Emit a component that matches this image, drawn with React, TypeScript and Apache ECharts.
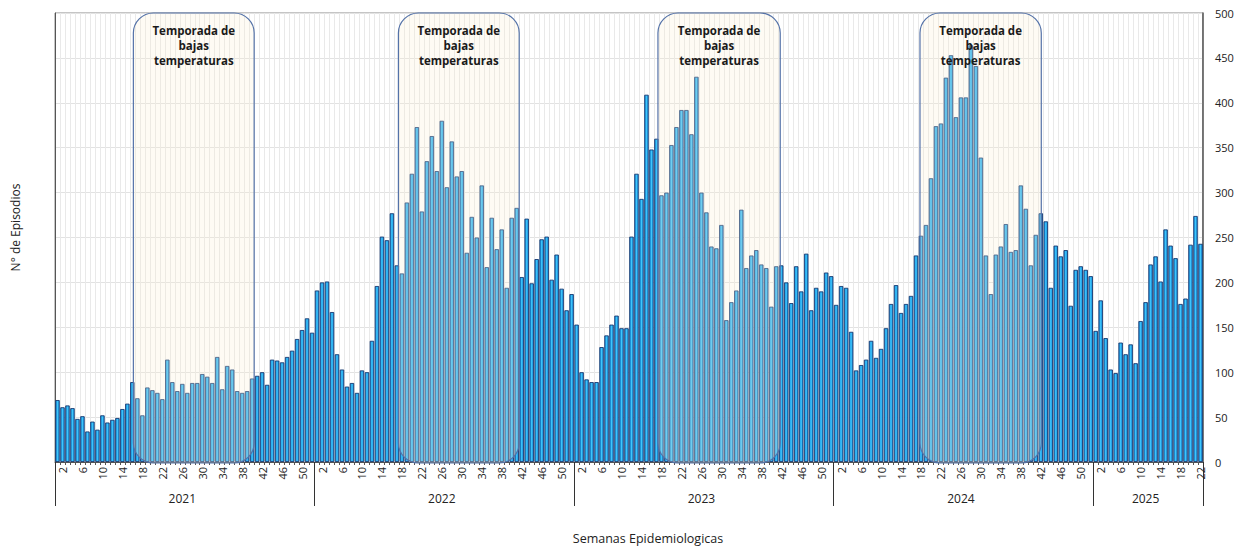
import React, { useEffect, useRef } from "react";
import * as echarts from "echarts";

const years = ["2021", "2022", "2023", "2024", "2025"];
const v2021 = [69,61,63,60,48,51,34,45,36,52,44,47,49,59,65,89,71,52,83,80,77,70,114,89,79,87,77,88,88,98,95,88,117,81,107,103,79,77,79,93,96,100,86,114,113,111,117,124,137,147,160,144];
const v2022 = [191,200,201,167,120,103,84,88,77,102,100,135,196,251,247,277,219,210,289,321,373,279,335,363,324,380,306,357,318,324,233,273,250,308,217,272,237,259,194,272,283,206,271,199,226,248,251,203,231,193,169,187];
const v2023 = [153,100,92,89,89,128,141,153,163,149,149,251,321,293,409,348,360,297,300,353,373,392,392,365,429,300,278,240,238,264,158,178,191,281,216,230,236,220,216,173,218,219,200,177,218,190,232,169,194,190,211,207];
const v2024 = [175,196,194,145,102,108,114,135,116,126,149,176,197,166,176,185,230,252,264,316,374,377,428,453,384,406,406,464,441,339,230,187,231,240,265,234,236,308,282,219,253,277,268,194,241,229,236,174,214,218,214,207];
const v2025 = [146,180,138,103,99,133,120,131,110,157,178,220,229,201,259,241,227,176,182,242,274,243];
const yearValues = [v2021, v2022, v2023, v2024, v2025];

// Low-temperature seasons: year index and start/end position in weeks (week w spans [w-1, w])
const seasonYear = [0, 1, 2, 3];
const seasonFrom = [16.7, 17.8, 17.8, 18.3];
const seasonTo = [40.9, 42.0, 42.3, 42.6];
const seasonText = "Temporada de\nbajas\ntemperaturas";

export default function App() {
  const ref = useRef<HTMLDivElement>(null);
  useEffect(() => {
    if (!ref.current) return;
    const chart = echarts.init(ref.current, null, { renderer: "svg" });

    const weekCats: string[] = [];
    const yearCats: string[] = [];
    const values: number[] = [];
    const isYearStart: boolean[] = [];
    const isYearMid: boolean[] = [];
    const yearOffset: number[] = [];
    let off = 0;
    yearValues.forEach((arr, yi) => {
      yearOffset.push(off);
      const mid = Math.floor(arr.length / 2) - 1;
      arr.forEach((v, wi) => {
        weekCats.push(String(wi + 1));
        yearCats.push(years[yi]);
        values.push(v);
        isYearStart.push(wi === 0);
        isYearMid.push(wi === mid);
      });
      off += arr.length;
    });

    const font = '"Open Sans", "Liberation Sans", sans-serif';
    const barColor = new echarts.graphic.LinearGradient(0, 0, 1, 0, [
      { offset: 0, color: "#0c86da" },
      { offset: 0.5, color: "#3fc6fb" },
      { offset: 1, color: "#0c86da" },
    ]);

    const seasonData = seasonYear.map((y, i) => [
      Math.floor(yearOffset[y] + seasonFrom[i] - 1),
      500,
      i,
    ]);

    chart.setOption({
      animation: false,
      backgroundColor: "#ffffff",
      grid: {
        left: 55,
        right: 38,
        top: 13,
        bottom: 86,
        show: true,
        borderColor: "#8a8a8a",
        borderWidth: 1,
        backgroundColor: "transparent",
      },
      xAxis: [
        {
          type: "category",
          data: weekCats,
          position: "bottom",
          axisLine: { show: true, lineStyle: { color: "#555" } },
          axisTick: { show: true, interval: 0, length: 3, lineStyle: { color: "#555" } },
          axisLabel: {
            interval: (i: number, v: string) => Number(v) % 4 === 2,
            rotate: 90,
            fontSize: 11,
            color: "#222",
            fontFamily: font,
            margin: 5,
          },
          splitLine: { show: true, interval: 0, lineStyle: { color: "#e9e9e9", width: 1 } },
        },
        {
          type: "category",
          data: yearCats,
          position: "bottom",
          axisLine: { show: false },
          axisTick: {
            show: true,
            interval: (i: number) => isYearStart[i],
            length: 44,
            lineStyle: { color: "#333" },
          },
          axisLabel: {
            interval: (i: number) => isYearMid[i],
            fontSize: 12,
            color: "#222",
            fontFamily: font,
            margin: 30,
          },
          splitLine: { show: false },
          name: "Semanas Epidemiologicas",
          nameLocation: "middle",
          nameGap: 70,
          nameTextStyle: { fontSize: 12.5, color: "#222", fontFamily: font, padding: [0, 0, 0, 38] },
        },
      ],
      yAxis: [
        {
          type: "value",
          position: "right",
          min: 0,
          max: 500,
          interval: 50,
          axisLine: { show: true, lineStyle: { color: "#555", width: 1.5 } },
          axisTick: { show: false },
          axisLabel: { fontSize: 11, color: "#222", fontFamily: font, margin: 12 },
          splitLine: { show: true, lineStyle: { color: "#e2e2e2", width: 1 } },
        },
        {
          type: "value",
          position: "left",
          min: 0,
          max: 500,
          interval: 50,
          axisLine: { show: true, lineStyle: { color: "#555" } },
          axisTick: { show: false },
          axisLabel: { show: false },
          splitLine: { show: false },
          name: "N° de Episodios",
          nameLocation: "middle",
          nameGap: 34,
          nameRotate: 90,
          nameTextStyle: { fontSize: 12, color: "#222", fontFamily: font, padding: [0, 0, 0, 20] },
        },
      ],
      series: [
        {
          type: "bar",
          data: values,
          xAxisIndex: 0,
          yAxisIndex: 0,
          barCategoryGap: "10%",
          z: 2,
          itemStyle: { color: barColor, borderColor: "#183a72", borderWidth: 0.9 },
        },
        {
          type: "custom",
          xAxisIndex: 0,
          yAxisIndex: 0,
          z: 5,
          clip: false,
          data: seasonData,
          renderItem: (params: any, api: any) => {
            const i = api.value(2);
            const bw = api.size([1, 0])[0];
            const x0 = api.coord([0, 0])[0] - bw / 2;
            const bottom = api.coord([0, 0])[1];
            const top = api.coord([0, 500])[1];
            const start = yearOffset[seasonYear[i]] + seasonFrom[i] - 1;
            const end = yearOffset[seasonYear[i]] + seasonTo[i] - 1;
            const x = x0 + start * bw;
            const w = (end - start) * bw;
            return {
              type: "group",
              children: [
                {
                  type: "rect",
                  shape: { x, y: top, width: w, height: bottom - top + 1, r: 20 },
                  style: { fill: "rgba(250,238,214,0.26)", stroke: "#5472a8", lineWidth: 1.2 },
                },
                {
                  type: "text",
                  x: x + w / 2,
                  y: top + 10,
                  style: {
                    text: seasonText,
                    fill: "#1a1a1a",
                    font: `bold 11.5px ${font}`,
                    align: "center",
                    verticalAlign: "top",
                    lineHeight: 15,
                  },
                },
              ],
            };
          },
        },
      ],
    });
    return () => chart.dispose();
  }, []);
  return <div ref={ref} style={{ position: "fixed", left: 0, top: 0, width: 1241, height: 550 }} />;
}
